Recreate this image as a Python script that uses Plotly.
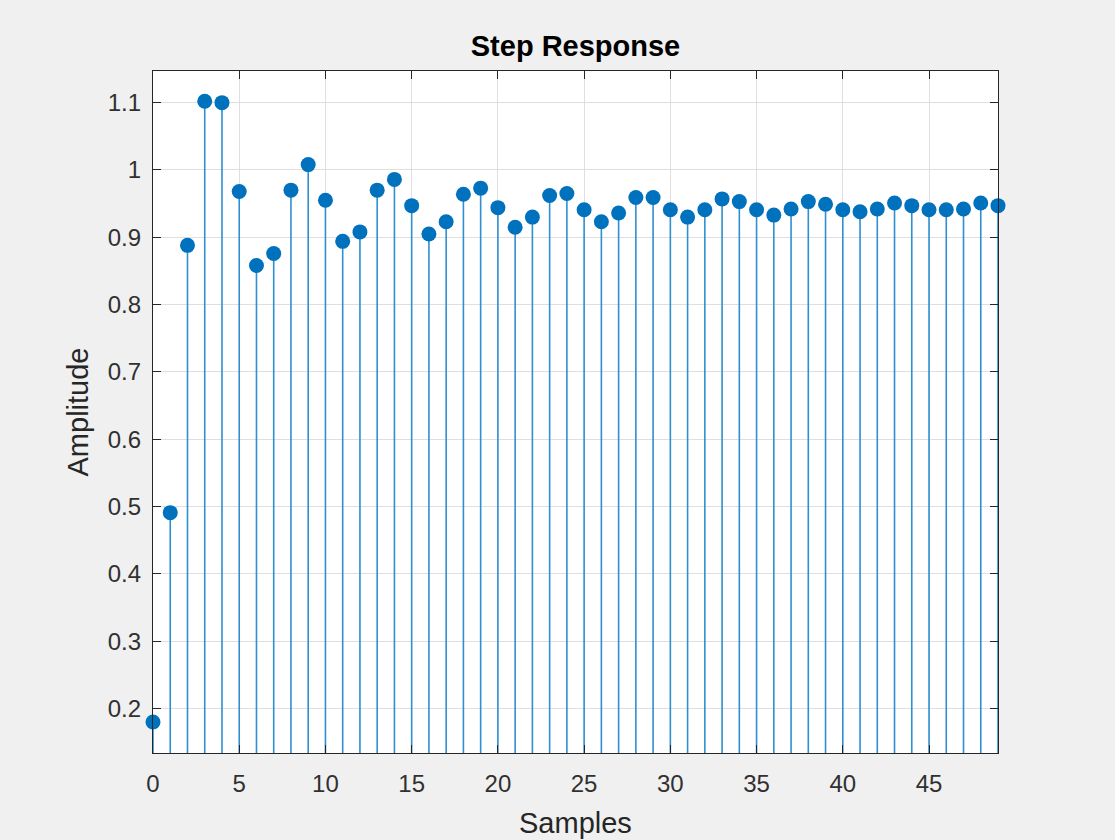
import plotly.graph_objects as go

# step response samples
samples = list(range(50))
amplitude = [
    0.180, 0.491, 0.888, 1.102, 1.100, 0.968, 0.858, 0.876, 0.970, 1.008,
    0.955, 0.894, 0.908, 0.970, 0.986, 0.947, 0.905, 0.923, 0.964, 0.973,
    0.944, 0.915, 0.930, 0.962, 0.965, 0.941, 0.923, 0.936, 0.959, 0.959,
    0.941, 0.930, 0.941, 0.957, 0.953, 0.941, 0.933, 0.942, 0.953, 0.949,
    0.941, 0.938, 0.942, 0.951, 0.947, 0.941, 0.941, 0.942, 0.951, 0.947,
]
x_ticks = list(range(0, 50, 5))
y_ticks = [0.2, 0.3, 0.4, 0.5, 0.6, 0.7, 0.8, 0.9, 1.0, 1.1]
y_labels = ["0.2", "0.3", "0.4", "0.5", "0.6", "0.7", "0.8", "0.9", "1", "1.1"]

# stems go from baseline 0 up to each sample
stem_x, stem_y = [], []
for s, a in zip(samples, amplitude):
    stem_x += [s, s, None]
    stem_y += [0, a, None]

fig = go.Figure()
fig.add_trace(go.Scatter(x=stem_x, y=stem_y, mode="lines",
                         line=dict(color="#2f8fd0", width=1.6),
                         hoverinfo="skip", showlegend=False))
fig.add_trace(go.Scatter(x=samples, y=amplitude, mode="markers",
                         marker=dict(color="#0072BD", size=15),
                         cliponaxis=False, showlegend=False))

FONT = "Liberation Sans, Arial, sans-serif"
tick_font = dict(family=FONT, size=24, color="#303030")
label_font = dict(family=FONT, size=29, color="#262626")

fig.update_layout(
    width=1115, height=840,
    paper_bgcolor="#f0f0f0", plot_bgcolor="white",
    margin=dict(l=153, r=117, t=71, b=87),
    title=dict(text="<b>Step Response</b>", x=(153 + 998) / 2 / 1115, xanchor="center",
               y=1 - 46 / 840, yanchor="middle",
               font=dict(family=FONT, size=29, color="#000000")),
    font=tick_font,
)
# x label placed by hand, below the tick labels
fig.add_annotation(text="Samples", xref="paper", yref="paper", x=0.5, y=-(823 - 753) / 682,
                   xanchor="center", yanchor="middle", showarrow=False, font=label_font)
fig.update_xaxes(range=[0, 49], tickvals=x_ticks, ticks="inside", ticklen=8,
                 tickcolor="#262626", showline=True, linecolor="#262626", linewidth=1.2,
                 mirror="ticks", showgrid=True, gridcolor="#dfdfdf", zeroline=False,
                 tickfont=tick_font, ticklabelstandoff=9)
fig.update_yaxes(range=[0.134, 1.147], tickvals=y_ticks, ticktext=y_labels, ticks="inside",
                 ticklen=8, tickcolor="#262626", showline=True, linecolor="#262626",
                 linewidth=1.2, mirror="ticks", showgrid=True, gridcolor="#dfdfdf",
                 zeroline=False, tickfont=tick_font, ticklabelstandoff=6,
                 title=dict(text="Amplitude", font=label_font, standoff=10))

# drop the default 8px body margin so the figure sits at the window's corner
fig.write_html("out.html", config={"displayModeBar": False},
               post_script="document.body.style.margin='0';"
                           "document.body.style.background='#f0f0f0';")
